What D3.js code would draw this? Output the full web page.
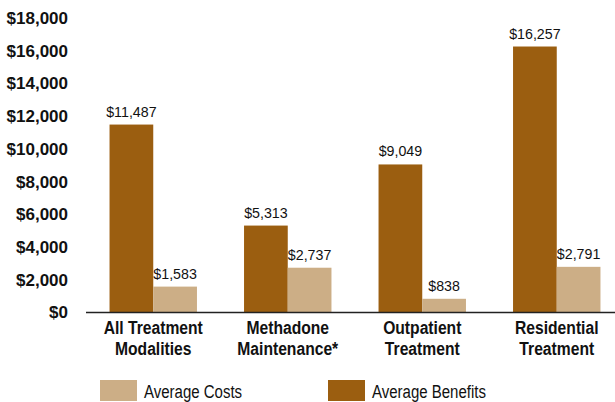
<!DOCTYPE html>
<html><head><meta charset="utf-8">
<script src="https://cdn.jsdelivr.net/npm/d3@7"></script>
<style>
body{margin:0;background:#fff;}
text{font-family:"Liberation Sans",Arial,sans-serif;}
</style></head>
<body><svg id="c" width="615" height="402"></svg>
<script>
const categories = [["All Treatment","Modalities"],["Methadone","Maintenance*"],["Outpatient","Treatment"],["Residential","Treatment"]];
const benefits = [11487, 5313, 9049, 16257];
const costs = [1583, 2737, 838, 2791];
const yTicks = [0,2000,4000,6000,8000,10000,12000,14000,16000,18000];
const seriesNames = ["Average Costs","Average Benefits"];
const colors = {benefits:"#9b5e10", costs:"#ccae86"};

const svg = d3.select("#c");
const y = d3.scaleLinear().domain([0,18000]).range([312.5,18]);
const x = d3.scaleBand().domain(d3.range(categories.length)).range([86,624]).paddingInner(0.35).paddingOuter(0.175);
const sub = d3.scaleBand().domain(["benefits","costs"]).range([0,x.bandwidth()]);
const fmt = d => "$" + d3.format(",")(d);

// condensed text helper
function ctext(parent, tx, ty, sx, anchor){
  return parent.append("g").attr("transform",`translate(${tx},${ty}) scale(${sx},1)`)
    .append("text").attr("x",0).attr("y",0).attr("text-anchor",anchor||"start");
}

// y axis labels
const yAxis = d3.axisLeft(y).tickValues(yTicks).tickFormat(fmt).tickSize(0).tickPadding(0);
const ga = svg.append("g").attr("transform","translate(68,0)").call(yAxis);
ga.select(".domain").remove();
ga.selectAll("text").attr("font-size",17).attr("font-weight","bold").attr("fill","#111")
  .style("font-family",'"Liberation Sans",Arial,sans-serif');

const data = categories.map((c,i)=>({i, benefits:benefits[i], costs:costs[i]}));
const g = svg.append("g");
["benefits","costs"].forEach(k=>{
  g.selectAll("rect."+k).data(data).enter().append("rect")
    .attr("x",d=>x(d.i)+sub(k)).attr("width",sub.bandwidth())
    .attr("y",d=>y(d[k])).attr("height",d=>y(0)-y(d[k]))
    .attr("fill",colors[k]);
  data.forEach(d=>{
    ctext(g, x(d.i)+sub(k)+sub.bandwidth()/2, y(d[k])-8, 0.95, "middle")
      .attr("font-size",15).attr("fill","#111").text(fmt(d[k]));
  });
});

// x axis line
svg.append("line").attr("x1",86).attr("x2",615).attr("y1",y(0)).attr("y2",y(0))
  .attr("stroke","#222").attr("stroke-width",1.5);

// category labels
categories.forEach((c,i)=>{
  c.forEach((line,j)=>{
    ctext(svg, x(i)+x.bandwidth()/2, 334+j*21, 0.87, "middle")
      .attr("font-size",18).attr("font-weight","bold").attr("fill","#111").text(line);
  });
});

// legend
const leg = [{name:seriesNames[0],color:colors.costs,x:100},{name:seriesNames[1],color:colors.benefits,x:328}];
leg.forEach(l=>{
  svg.append("rect").attr("x",l.x).attr("y",380).attr("width",37).attr("height",21).attr("fill",l.color);
  ctext(svg, l.x+44, 398, 0.79, "start").attr("font-size",19).attr("fill","#111").text(l.name);
});
</script></body></html>
